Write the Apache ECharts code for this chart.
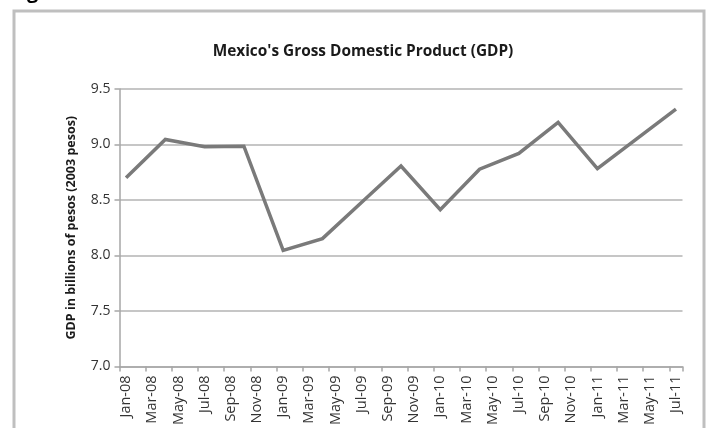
<!DOCTYPE html>
<html>
<head>
<meta charset="utf-8">
<script src="https://cdn.jsdelivr.net/npm/echarts@6/dist/echarts.min.js"></script>
<style>
html,body{margin:0;padding:0;background:#fff;}
#c{width:707px;height:428px;}
</style>
</head>
<body>
<div id="c"></div>
<script>
// Monthly category axis (Jan-08 .. Jul-11); labels every 2 months
const monthNames = ['Jan','Feb','Mar','Apr','May','Jun','Jul','Aug','Sep','Oct','Nov','Dec'];
const years = ['08','09','10','11'];
// Quarterly observation months and GDP values (billions of 2003 pesos)
const quarterMonths = ['Jan-08','Apr-08','Jul-08','Oct-08','Jan-09','Apr-09','Jul-09','Oct-09','Jan-10','Apr-10','Jul-10','Oct-10','Jan-11','Apr-11','Jul-11'];
const gdpValues = [8.70, 9.045, 8.98, 8.985, 8.045, 8.152, 8.48, 8.806, 8.413, 8.777, 8.92, 9.199, 8.783, 9.05, 9.319];
const yTicks = [7.0, 7.5, 8.0, 8.5, 9.0, 9.5];

const categories = [];
for (const y of years) {
  for (const m of monthNames) {
    const lab = m + '-' + y;
    categories.push(lab);
    if (lab === 'Jul-11') break;
  }
}
const seriesData = categories.map(c => {
  const i = quarterMonths.indexOf(c);
  return i >= 0 ? gdpValues[i] : null;
});

const font = '"Open Sans", "Liberation Sans", sans-serif';
const chart = echarts.init(document.getElementById('c'), null, {renderer: 'canvas'});
chart.setOption({
  animation: false,
  backgroundColor: '#ffffff',
  title: {
    text: "Mexico's Gross Domestic Product (GDP)",
    left: 358,
    top: 39,
    textAlign: 'center',
    textStyle: {fontFamily: font, fontWeight: 'bold', fontSize: 15.4, color: '#1a1a1a'}
  },
  graphic: [
    {type: 'rect', shape: {x: 14, y: 11, width: 690, height: 440},
     style: {fill: 'none', stroke: '#bfbfbf', lineWidth: 3}},
    {type: 'text', left: 27, top: -18,
     style: {text: 'g', fontFamily: font, fontWeight: 'bold', fontSize: 20, fill: '#000'}}
  ],
  grid: {left: 119.5, right: 24.5, top: 89, bottom: 59, containLabel: false},
  xAxis: {
    type: 'category',
    data: categories,
    boundaryGap: true,
    axisLine: {lineStyle: {color: '#a6a6a6', width: 1.5}},
    axisTick: {show: true, interval: 1, length: 5, lineStyle: {color: '#a6a6a6', width: 1.5}},
    axisLabel: {interval: 1, rotate: 90, margin: 9, fontFamily: font, fontSize: 14.5, color: '#333333'},
    splitLine: {show: false}
  },
  yAxis: {
    type: 'value',
    min: yTicks[0],
    max: yTicks[yTicks.length - 1],
    interval: 0.5,
    name: 'GDP in billions of pesos (2003 pesos)',
    nameLocation: 'middle',
    nameRotate: 90,
    nameGap: 42,
    nameTextStyle: {fontFamily: font, fontWeight: 'bold', fontSize: 12.5, color: '#1a1a1a'},
    axisLine: {show: true, lineStyle: {color: '#a6a6a6', width: 1.5}},
    axisTick: {show: true, length: 5, lineStyle: {color: '#a6a6a6', width: 1.5}},
    axisLabel: {fontFamily: font, fontSize: 14, color: '#333333', margin: 9,
                formatter: v => v.toFixed(1)},
    splitLine: {show: true, lineStyle: {color: '#b3b3b3', width: 1.5}}
  },
  series: [{
    type: 'line',
    data: seriesData,
    connectNulls: true,
    showSymbol: false,
    symbol: 'none',
    lineStyle: {color: '#7a7a7a', width: 3.5, join: 'miter'}
  }]
});
</script>
</body>
</html>
